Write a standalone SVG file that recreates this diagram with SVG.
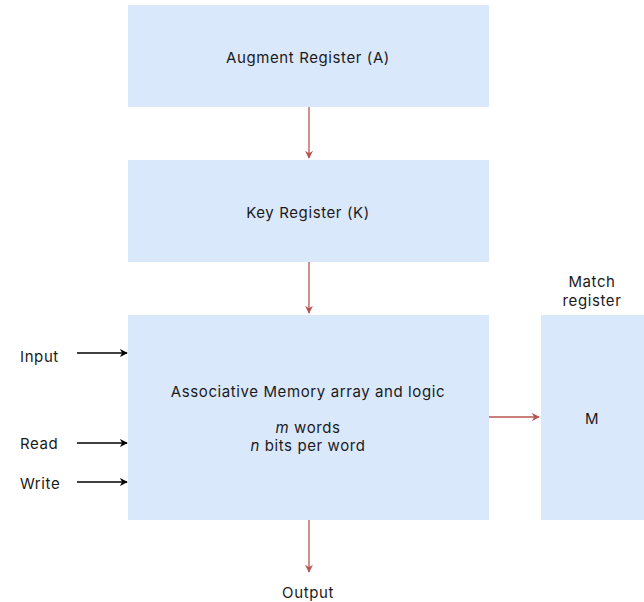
<svg xmlns="http://www.w3.org/2000/svg" width="644" height="602" viewBox="0 0 644 602">
<style>
.box{fill:#dae8fc;stroke:none}
.t{font-family:Inter,"Open Sans","Liberation Sans",sans-serif;font-size:15px;letter-spacing:0.6px;fill:#1a1a1a;text-anchor:middle;dominant-baseline:central}
.l{text-anchor:start}
.red{stroke:#b85450;stroke-width:1.3;fill:none}
.blk{stroke:#000;stroke-width:1.3;fill:none}
</style>
<defs>
<marker id="ar" viewBox="0 0 10 10" refX="9" refY="5" markerWidth="8" markerHeight="8" markerUnits="userSpaceOnUse" orient="auto"><path d="M0,0 L10,5 L0,10 L3,5 Z" fill="#b85450"/></marker>
<marker id="ab" viewBox="0 0 10 10" refX="9" refY="5" markerWidth="8" markerHeight="8" markerUnits="userSpaceOnUse" orient="auto"><path d="M0,0 L10,5 L0,10 L3,5 Z" fill="#000"/></marker>
</defs>
<g id="nodeA"><rect class="box" x="128" y="5" width="361" height="102"/><text class="t" x="308" y="57">Augment Register (A)</text></g>
<g id="nodeK"><rect class="box" x="128" y="160" width="361" height="102"/><text class="t" x="308" y="212">Key Register (K)</text></g>
<g id="nodeMem"><rect class="box" x="128" y="315" width="361" height="205"/>
<text class="t" x="308" y="391">Associative Memory array and logic</text>
<text class="t" x="308" y="427"><tspan font-style="italic">m</tspan> words</text>
<text class="t" x="308" y="445"><tspan font-style="italic">n</tspan> bits per word</text></g>
<g id="nodeM"><rect class="box" x="541" y="315" width="103" height="205"/><text class="t" x="592" y="418">M</text></g>
<g id="labels">
<text class="t" x="592" y="281">Match</text><text class="t" x="592" y="300">register</text>
<text class="t l" x="20" y="356">Input</text>
<text class="t l" x="20" y="443">Read</text>
<text class="t l" x="20" y="483">Write</text>
<text class="t" x="308" y="592">Output</text>
</g>
<g id="connectors">
<line class="red" x1="309" y1="107" x2="309" y2="158" marker-end="url(#ar)"/>
<line class="red" x1="309" y1="262" x2="309" y2="313" marker-end="url(#ar)"/>
<line class="red" x1="489" y1="417" x2="539" y2="417" marker-end="url(#ar)"/>
<line class="red" x1="309" y1="520" x2="309" y2="572" marker-end="url(#ar)"/>
<line class="blk" x1="77" y1="353" x2="127" y2="353" marker-end="url(#ab)"/>
<line class="blk" x1="77" y1="443" x2="127" y2="443" marker-end="url(#ab)"/>
<line class="blk" x1="77" y1="482" x2="127" y2="482" marker-end="url(#ab)"/>
</g>
</svg>
